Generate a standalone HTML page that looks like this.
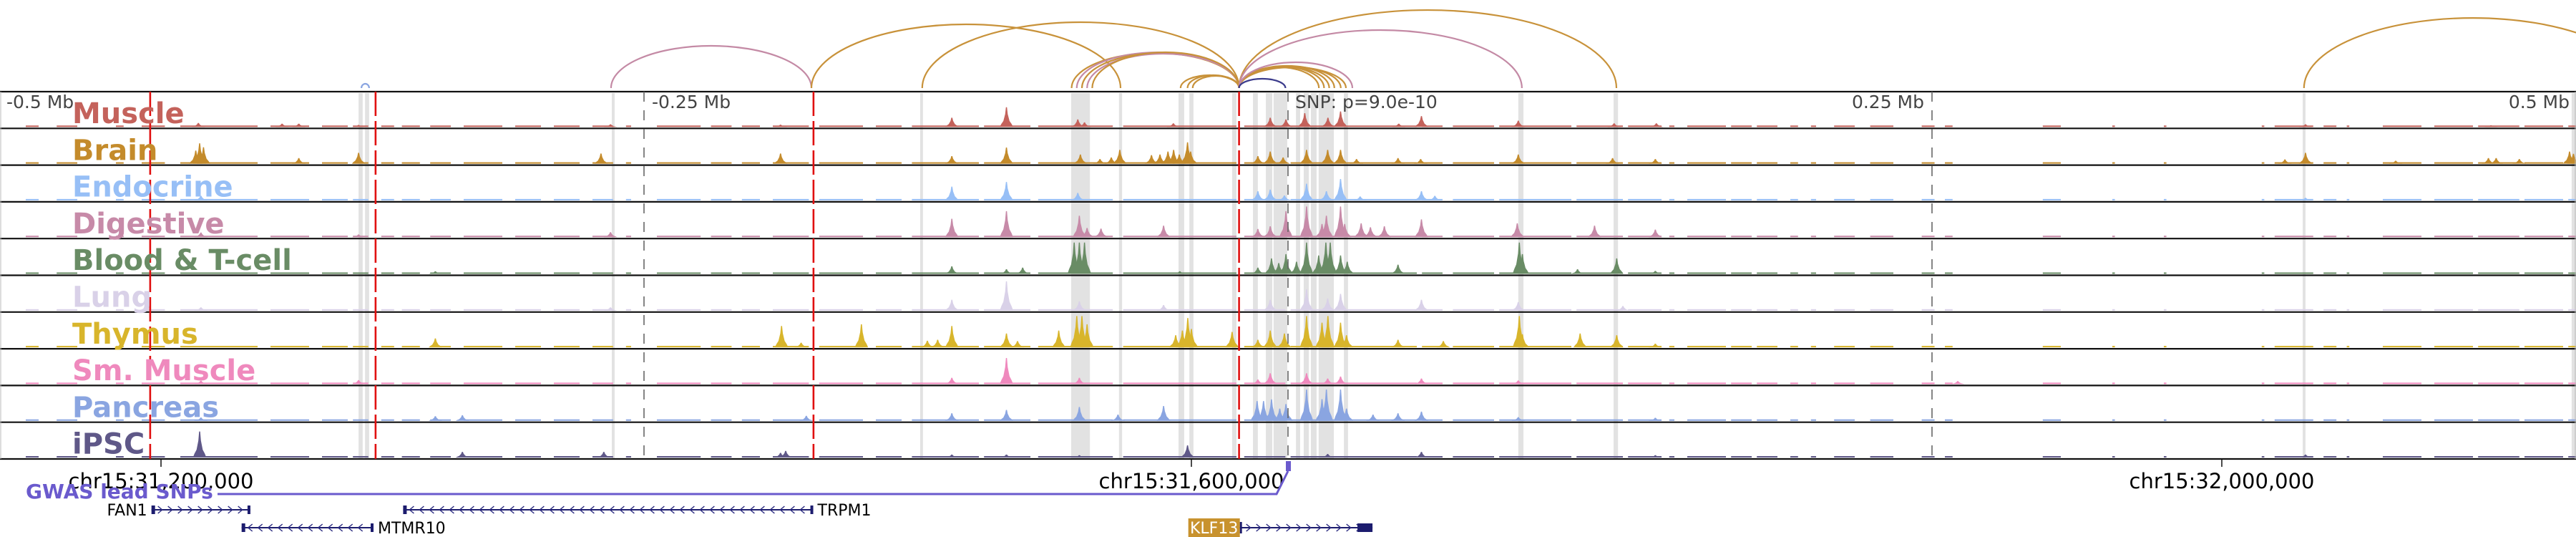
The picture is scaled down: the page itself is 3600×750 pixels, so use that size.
<!DOCTYPE html>
<html><head><meta charset="utf-8"><style>
html,body{margin:0;padding:0;background:#fff;}
svg{display:block;font-family:"DejaVu Sans","Liberation Sans",sans-serif;}
</style></head><body>
<svg id="chart" width="3600" height="750" viewBox="0 0 3600 750" xmlns="http://www.w3.org/2000/svg">
<g id="bands"></g>
<g id="arcs"></g>
<g id="tracks"></g>
<g id="vlines"></g>
<g id="labels"></g>
<g id="bottom"></g>
<g id="genes"></g>
</svg>
<script>
// ---- data (positions in kb relative to lead SNP chr15:31,637,500) ----
const trackNames = ["Muscle","Brain","Endocrine","Digestive","Blood & T-cell","Lung","Thymus","Sm. Muscle","Pancreas","iPSC"];
const trackColors = ["#c4625b","#c48b2b","#97bff6","#c78aa8","#698c65","#d9d1e8","#d8b52b","#ef89bd","#8aa5e1","#5f5888"];
const musclePeaks = [[-423,.12],[-390.5,.1],[-384,.1],[-360.8,.06],[-263,.08],[-197,.07],[-130.5,.28],[-109.3,.6],[-81.6,.23],[-79,.14],[-44.5,.11],[-6.9,.28],[-0.8,.23],[6.5,.42],[15.5,.28],[20.4,.47],[43,.1],[51.8,.33],[89.4,.19],[126.6,.11],[143,.11],[395,.08],[467,.05]];
const brainPeaks = [[-422.5,.62],[-421,.5],[-424,.4],[-384,.17],[-360.8,.33],[-266.7,.31],[-197,.31],[-130.5,.23],[-109.3,.49],[-80.6,.28],[-73,.14],[-68.6,.19],[-65.3,.42],[-53,.26],[-49.7,.28],[-46.6,.37],[-44.4,.42],[-42.2,.28],[-39,.65],[-37.8,.37],[-11.7,.23],[-6.9,.37],[-1.9,.19],[7.2,.42],[15.4,.42],[20.4,.42],[26.6,.14],[42.7,.17],[51.5,.14],[89.4,.28],[126,.17],[142.6,.14],[387,.13],[395,.33],[430,.09],[466,.17],[469,.17],[478,.14],[497.5,.37],[499,.3]];
const endocrinePeaks = [[-422,.14],[-130.5,.42],[-109.3,.56],[-81.6,.23],[-11.7,.28],[-6.9,.33],[-1.4,.15],[7.2,.51],[14.9,.28],[20.4,.65],[28,.12],[51.8,.28],[57,.14],[395,.08]];
const digestivePeaks = [[-422,.14],[-360.8,.08],[-263,.15],[-130.5,.56],[-109.3,.79],[-81,.65],[-78,.28],[-72.6,.26],[-48.3,.35],[-11.7,.25],[-6.9,.33],[-0.8,.79],[7.2,.93],[13.2,.4],[14.9,.65],[20.4,.93],[22,.4],[28.4,.42],[32,.3],[37.4,.33],[51.8,.54],[89,.42],[119,.35],[142.6,.23]];
const bloodPeaks = [[-331,.08],[-130.5,.23],[-109.3,.14],[-103,.19],[-83,.95],[-81,.95],[-79,.95],[-42,.08],[-11.7,.19],[-6.4,.47],[-3.6,.33],[-0.8,.6],[3.3,.37],[7.2,.95],[11.9,.56],[14.7,.95],[16.4,.95],[20.4,.56],[23,.37],[42.7,.28],[89.8,.95],[91,.6],[112.4,.14],[127.6,.47],[142.6,.09]];
const lungPeaks = [[-422,.1],[-263,.1],[-130.5,.33],[-109.3,.89],[-81,.28],[-48.3,.17],[-6.9,.33],[7.2,.65],[15.4,.37],[20.4,.51],[51.8,.33],[89.4,.26],[130,.14]];
const thymusPeaks = [[-331,.27],[-196.6,.65],[-189,.14],[-165.6,.7],[-140,.2],[-136,.23],[-130.5,.65],[-109.3,.42],[-105,.19],[-89,.51],[-82,.95],[-80,.95],[-78,.7],[-43.6,.37],[-41,.51],[-38.9,.89],[-37.5,.56],[-21.7,.47],[-11.7,.23],[-6.9,.51],[-1.4,.42],[7.2,.95],[13.2,.75],[15.5,.95],[20.4,.75],[22.7,.37],[42.7,.23],[60.3,.19],[89.8,.95],[91,.4],[113.4,.42],[127.6,.37],[142.6,.11]];
const smMusclePeaks = [[-422,.1],[-360.8,.12],[-130.5,.19],[-109.3,.79],[-81,.19],[-11.7,.14],[-6.9,.33],[7.2,.33],[15.4,.17],[20.4,.23],[51.8,.17],[89.4,.11],[260,.09]];
const pancreasPeaks = [[-422,.1],[-331,.14],[-320.5,.17],[-187,.15],[-130.5,.23],[-109.3,.33],[-81,.42],[-66,.19],[-48.3,.45],[-12,.6],[-9.5,.6],[-6.4,.65],[-3.2,.37],[-0.8,.51],[7.2,.95],[13.2,.66],[14.9,.95],[20.4,.95],[22.7,.37],[33,.19],[42.7,.23],[51.8,.28],[89.4,.11],[142.6,.09]];
const ipscPeaks = [[-422.5,.79],[-320.5,.17],[-265.6,.17],[-197,.14],[-195,.2],[-130.5,.09],[-109.3,.09],[-81,.07],[-39,.37],[15.4,.11],[51.8,.17],[142.6,.07],[395,.09]];
const trackPeaks = [musclePeaks,brainPeaks,endocrinePeaks,digestivePeaks,bloodPeaks,lungPeaks,thymusPeaks,smMusclePeaks,pancreasPeaks,ipscPeaks];
const coverage = [[-490,-485],[-478,-470],[-455,-452],[-445,-436],[-430,-400],[-395,-380],[-375,-365],[-363,-357],[-352,-347],[-344,-337],[-333,-325],[-320,-305],[-300,-290],[-285,-275],[-270,-262],[-257,-255],[-245,-228],[-224,-216],[-212,-205],[-200,-186],[-182,-165],[-160,-150],[-146,-120],[-118,-100],[-97,-68],[-64,-20],[-17,-1],[1,50],[52,60],[64,80],[82,110],[112,130],[132,145],[148,150],[155,170],[172,180],[182,190],[195,198],[203,205],[212,220],[226,235],[246,251],[255,258],[293,300],[320,321],[340,341],[378,379],[383,398],[402,407],[411,412],[425,440],[445,460],[462,478],[480,495],[497,500]];
const bandStarts = [-360.8,-358.3,-262.5,-142.8,-84.2,-65.6,-42.5,-38.3,-21.7,-13.6,-8.6,-5.6,3.1,6.1,8.9,11.9,21.7,89.4,126.4,393.9,498.3];
const bandEnds   = [-359.2,-356.7,-261.4,-141.7,-76.9,-64.4,-40.3,-36.7,-20,-11.7,-6.1,-0.3,4.7,8.1,11.1,17.8,23.3,91.4,128.1,395,500];
const arcStarts  = [-262.8,-185,-142,-84,-82,-80,-78,-76,-41.7,-39,-37,-19,-19,-19,-19,-19,-19,-19,-19,-19,-19,394.4,-359.7];
const arcEnds    = [-185,-65,-19,-19,-19,-19,-19,-19,-19,-19,-19,127.5,90.8,12,14,16,18,20.5,22.5,25,-1,525.5,-356.7];
const arcHeights = [59,89,92,49,50,49,48,50,18,18,17,109,81,29,30,30,31,30,29,36,13,98,6];
const arcColors  = ["#c48aa5","#c8923a","#c8923a","#c8923a","#c48aa5","#c8923a","#c48aa5","#c8923a","#c8923a","#c8923a","#c8923a","#c8923a","#c48aa5","#c8923a","#c8923a","#c8923a","#c8923a","#c8923a","#c8923a","#c48aa5","#3c3c8c","#c8923a","#8aa5e1"];
const redLinesKb = [-441.7,-354.2,-184.2,-19];
const mbTicks = [-0.5,-0.25,0,0.25,0.5];
const mbTickLabels = ["-0.5 Mb","-0.25 Mb","","0.25 Mb","0.5 Mb"];
const chromTicks = [31200000,31600000,32000000];
const chromTickLabels = ["chr15:31,200,000","chr15:31,600,000","chr15:32,000,000"];
const geneNames = ["FAN1","TRPM1","MTMR10","KLF13"];
const geneStarts = [31196300,31294000,31231300,31618800];
const geneEnds   = [31234700,31453200,31282500,31670300];
const geneStrand = [1,-1,-1,1];
const geneRows   = [0,0,1,1];
const snpPos = 31637500;

// ---- scales ----
const NS="http://www.w3.org/2000/svg";
const X0=1800, PXKB=3.6;
const xk = kb => X0 + kb*PXKB;
const xg = pos => xk((pos-snpPos)/1000);
const TOP=128, TH=51.3, NT=trackNames.length;
const trackTop = i => TOP + i*TH;
const trackBase = i => TOP + (i+1)*TH - 2;
const PH = 46;
function mk(tag, attrs, parent){const e=document.createElementNS(NS,tag);for(const k in attrs)e.setAttribute(k,attrs[k]);parent.appendChild(e);return e;}

// bands
const gB=document.getElementById('bands');
bandStarts.forEach((s,i)=>{
  const r=mk('rect',{x:xk(s),y:TOP+2,width:Math.max(2,xk(bandEnds[i])-xk(s)),height:NT*TH-2,fill:'#e2e2e2'},gB);
  
  
});

// arcs
const gA=document.getElementById('arcs');
const ARCBASE=123;
arcStarts.forEach((s,i)=>{
  const x1=xk(s), x2=xk(arcEnds[i]), rx=(x2-x1)/2, ry=arcHeights[i];
  const p=mk('path',{d:`M${x1},${ARCBASE} A${rx},${ry} 0 0 1 ${x2},${ARCBASE}`,fill:'none',stroke:arcColors[i],'stroke-width':2.2},gA);
  
  
});

// tracks
const gT=document.getElementById('tracks');
trackNames.forEach((nm,i)=>{
  const g=mk('g',{},gT);
  
  
  const col=trackColors[i], base=trackBase(i);
  coverage.forEach(c=>{
    const r=mk('rect',{x:xk(c[0]),y:base-2,width:xk(c[1])-xk(c[0]),height:2,fill:col},g);
    
    
  });
  trackPeaks[i].forEach(pk=>{
    const k=pk[0], h=pk[1]*PH;
    const pts=[[xk(k-2.6),base],[xk(k-2.0),base-h*0.15],[xk(k-1.2),base-h*0.3],[xk(k-0.5),base-h*0.65],[xk(k-0.2),base-h],[xk(k+0.2),base-h],[xk(k+0.5),base-h*0.65],[xk(k+1.2),base-h*0.3],[xk(k+2.0),base-h*0.15],[xk(k+2.6),base]];
    const p=mk('polygon',{points:pts.map(q=>q.join(',')).join(' '),fill:col},g);
    
    
  });
});
// borders
for(let i=0;i<=NT;i++){
  const l=mk('line',{x1:0,x2:3600,y1:TOP+i*TH,y2:TOP+i*TH,stroke:'#111','stroke-width':2.2},gT);
  
  
}
mk('line',{x1:1,x2:1,y1:TOP,y2:TOP+NT*TH,stroke:'#bbb','stroke-width':1},gT);
mk('line',{x1:3599,x2:3599,y1:TOP,y2:TOP+NT*TH,stroke:'#bbb','stroke-width':1},gT);

// reference lines
const gV=document.getElementById('vlines');
mbTicks.forEach((m,i)=>{
  const x=xk(m*1000);
  if(Math.abs(m)<0.4){
    const l=mk('line',{x1:x,x2:x,y1:TOP,y2:TOP+NT*TH,stroke:'#666','stroke-width':1.6,'stroke-dasharray':'14,12'},gV);
    
    
  }
  const lab=mbTickLabels[i]; if(!lab) return;
  let anchor='start', tx=x+11;
  if(m<-0.4){tx=9;}
  if(m>0){anchor='end'; tx=(m>0.4)?3591:x-11;}
  const t=mk('text',{x:tx,y:151,'font-size':25,fill:'#444','text-anchor':anchor},gV);
  t.textContent=lab;
  
  
});
const snpT=mk('text',{x:xk(0)+10,y:151,'font-size':25,fill:'#444'},gV);
snpT.textContent='SNP: p=9.0e-10';


redLinesKb.forEach(k=>{
  const l=mk('line',{x1:xk(k),x2:xk(k),y1:TOP,y2:TOP+NT*TH,stroke:'#e01010','stroke-width':2.6,'stroke-dasharray':'34,7'},gV);
  
  
});

// track labels
const gL=document.getElementById('labels');
trackNames.forEach((nm,i)=>{
  const t=mk('text',{x:101,y:trackTop(i)+44,'font-size':40,'font-weight':'bold',fill:trackColors[i]},gL);
  t.textContent=nm;
  
  
});

// chrom axis
const gX=document.getElementById('bottom');
const AXY=TOP+NT*TH;
chromTicks.forEach((p,i)=>{
  const x=xg(p);
  mk('line',{x1:x,x2:x,y1:AXY,y2:AXY+11,stroke:'#111','stroke-width':1.5},gX);
  const t=mk('text',{x:x,y:682,'font-size':29,fill:'#000','text-anchor':'middle'},gX);
  t.textContent=chromTickLabels[i];
  
  
});

// GWAS + genes
const gG=document.getElementById('genes');
const gw=mk('text',{x:36,y:696,'font-size':28,'font-weight':'bold',fill:'#6a5acd'},gG);
gw.textContent='GWAS lead SNPs';


const sx=xg(snpPos);
const gl=mk('path',{d:`M304,690 L${sx-16},690 L${sx},658`,fill:'none',stroke:'#6a5acd','stroke-width':3},gG);


const sm=mk('rect',{x:sx-3,y:644,width:7,height:14,fill:'#6a5acd'},gG);


const rowY=[712,737];
geneNames.forEach((nm,i)=>{
  const g=mk('g',{},gG);
  
  
  const x1=xg(geneStarts[i]), x2=xg(geneEnds[i]), y=rowY[geneRows[i]], st=geneStrand[i];
  mk('line',{x1:x1,x2:x2,y1:y,y2:y,stroke:'#1c1c6e','stroke-width':2},g);
  for(let cx=x1+12;cx<x2-8;cx+=14){
    const d=st>0?`M${cx-3},${y-5} L${cx+3},${y} L${cx-3},${y+5}`:`M${cx+3},${y-5} L${cx-3},${y} L${cx+3},${y+5}`;
    mk('path',{d:d,fill:'none',stroke:'#2a2a80','stroke-width':1.4},g);
  }
  if(nm==='KLF13'){
    mk('rect',{x:x2-21,y:y-6,width:21,height:12,fill:'#1c1c6e'},g);
    mk('rect',{x:x1,y:y-8,width:3,height:16,fill:'#1c1c6e'},g);
    mk('rect',{x:x1-72,y:y-13,width:72,height:26,fill:'#c8922e'},g);
    const t=mk('text',{x:x1-36,y:y+8,'font-size':22,fill:'#fff','text-anchor':'middle'},g);
    t.textContent=nm;
    
    
  } else {
    mk('rect',{x:x1,y:y-6,width:5,height:12,fill:'#1c1c6e'},g);
    mk('rect',{x:x2-4,y:y-6,width:4,height:12,fill:'#1c1c6e'},g);
    const left = nm==='FAN1';
    const t=mk('text',{x:left?x1-6:x2+6,y:y+8,'font-size':22,fill:'#000','text-anchor':left?'end':'start'},g);
    t.textContent=nm;
    
    
  }
});
</script>
</body></html>
